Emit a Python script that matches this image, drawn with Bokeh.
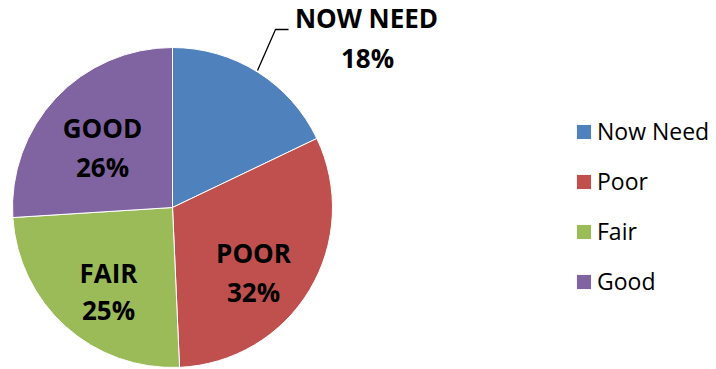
import numpy as np
from bokeh.plotting import figure
from bokeh.models import ColumnDataSource, Legend, LegendItem
from bokeh.core.properties import value
from bokeh.embed import file_html
from bokeh.resources import INLINE

# ---- data ----
categories = ["Now Need", "Poor", "Fair", "Good"]
shares = [17.9, 31.4, 24.7, 26.0]
label_names = ["NOW NEED", "POOR", "FAIR", "GOOD"]
label_pcts = ["18%", "32%", "25%", "26%"]
colors = ["#4F81BD", "#C0504D", "#9BBB59", "#8064A2"]

# ---- layout (pixel-like data units) ----
W, H = 716, 369
cx, cy, R = 172, 162, 160
name_x = [366, 253, 108, 102]
name_y = [352, 117, 97, 242]
pct_x = [367, 253, 108, 102]
pct_y = [312, 78, 60, 203]

vals = np.array(shares, dtype=float)
frac = vals / vals.sum()
cum = np.concatenate([[0.0], np.cumsum(frac)])
start = np.pi / 2 - cum[1:] * 2 * np.pi
end = np.pi / 2 - cum[:-1] * 2 * np.pi

src = ColumnDataSource(dict(cat=categories, start=start, end=end, color=colors,
                            x=[cx] * 4, y=[cy] * 4))

p = figure(width=W, height=H, x_range=(0, W), y_range=(0, H),
           output_backend="svg", toolbar_location=None, min_border=0)
p.axis.visible = False
p.grid.visible = False
p.outline_line_color = None
p.background_fill_color = "white"

r = p.wedge(x="x", y="y", radius=R, start_angle="start", end_angle="end",
            fill_color="color", line_color="white", line_width=1, source=src)

font = value("Open Sans")
p.text(x=name_x, y=name_y, text=label_names, text_font=font, text_font_size="26px",
       text_font_style="bold", text_align="center", text_baseline="alphabetic",
       text_color="black")
p.text(x=pct_x, y=pct_y, text=label_pcts, text_font=font, text_font_size="26px",
       text_font_style="bold", text_align="center", text_baseline="alphabetic",
       text_color="black")

# leader line for the first slice label
p.line(x=[257, 275, 288], y=[299, 340, 340], line_color="black", line_width=1.3)

items = [LegendItem(label=c, renderers=[r], index=i) for i, c in enumerate(categories)]
legend = Legend(items=items, location=(574, 72), orientation="vertical",
                glyph_width=19, glyph_height=19, label_height=31, spacing=18,
                label_standoff=4, padding=0, margin=0,
                border_line_alpha=0, background_fill_alpha=0,
                label_text_font="Open Sans", label_text_font_size="23px",
                label_text_color="black")
p.add_layout(legend, "center")

open("out.html", "w").write(file_html(p, INLINE))
